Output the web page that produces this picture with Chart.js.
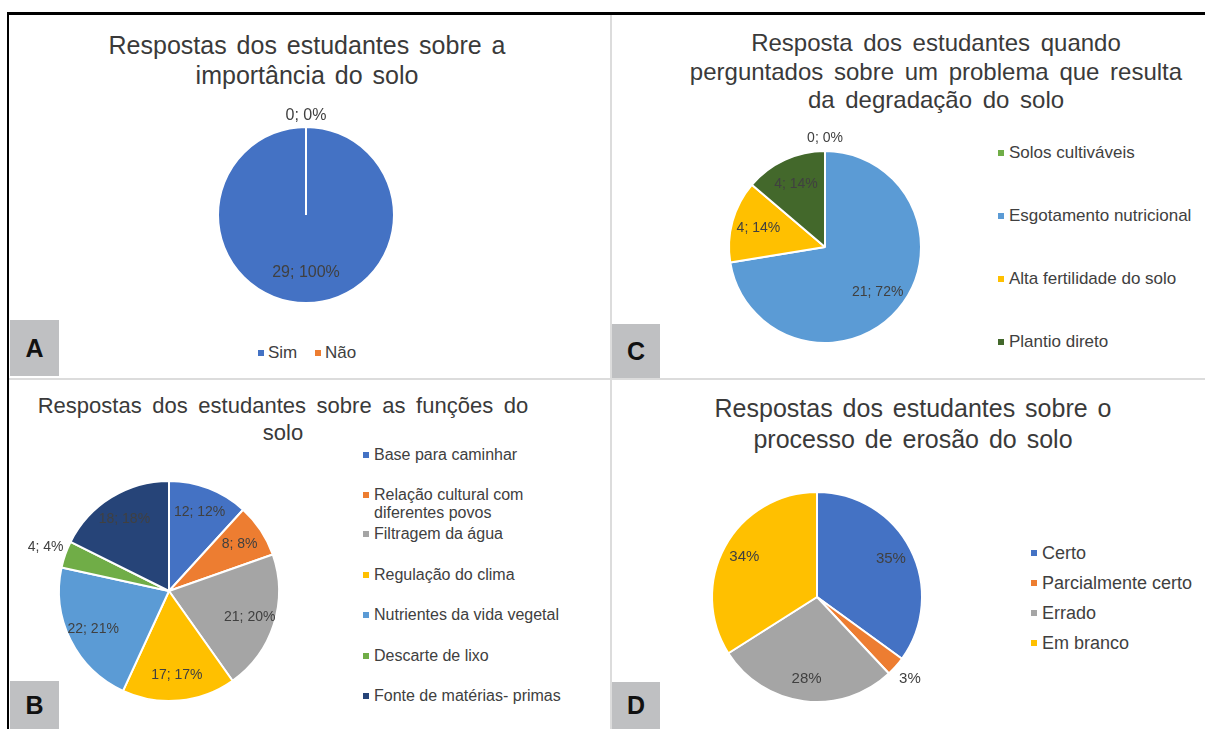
<!DOCTYPE html>
<html>
<head>
<meta charset="utf-8">
<script src="https://cdn.jsdelivr.net/npm/chart.js@4.4.1/dist/chart.umd.min.js"></script>
<style>
  html, body { margin: 0; padding: 0; background: #fff; }
  body { width: 1205px; height: 729px; position: relative; overflow: hidden; font-family: "Liberation Sans", Arial, sans-serif; color: #3a3a3a; }
  .abs { position: absolute; }
  .line { position: absolute; }
  .title { position: absolute; text-align: center; white-space: nowrap; color: #3a3a3a; }
  .letter { position: absolute; background: #bfc0c2; font-weight: bold; font-size: 25px; color: #111; display: flex; align-items: center; justify-content: center; z-index: 5; }
  .leg { position: absolute; white-space: nowrap; color: #404040; }
  .leg .it { position: absolute; left: 0; white-space: nowrap; }
  .leg .mk { position: absolute; width: 6px; height: 6px; }
  canvas { position: absolute; z-index: 1; }
</style>
</head>
<body>
<!-- frame and dividers -->
<div class="line" style="left:7px; top:12px; width:1198px; height:3px; background:#000;"></div>
<div class="line" style="left:7px; top:12px; width:2px; height:717px; background:#000;"></div>
<div class="line" style="left:9px; top:378px; width:1196px; height:2px; background:#dcdcdc;"></div>
<div class="line" style="left:610px; top:15px; width:2px; height:714px; background:#dcdcdc;"></div>

<!-- titles -->
<div class="title" style="left:57px; width:500px; top:30px; font-size:25px; line-height:30px; word-spacing:3px;">Respostas dos estudantes sobre a<br>importância do solo</div>
<div class="title" style="left:636px; width:600px; top:29px; font-size:24px; line-height:28.5px; word-spacing:4px;">Resposta dos estudantes quando<br>perguntados sobre um problema que resulta<br>da degradação do solo</div>
<div class="title" style="left:33px; width:500px; top:392px; font-size:22px; line-height:27px; word-spacing:4.5px;">Respostas dos estudantes sobre as funções do<br>solo</div>
<div class="title" style="left:663px; width:500px; top:393px; font-size:25px; line-height:31px; word-spacing:3px;">Respostas dos estudantes sobre o<br>processo de erosão do solo</div>

<!-- letters -->
<div class="letter" style="left:10px; top:320px; width:49px; height:56px;">A</div>
<div class="letter" style="left:612px; top:324px; width:48px; height:54px;">C</div>
<div class="letter" style="left:10px; top:681px; width:49px; height:48px;">B</div>
<div class="letter" style="left:612px; top:682px; width:48px; height:47px;">D</div>

<div id="legA" class="leg"></div>
<div id="legB" class="leg"></div>
<div id="legC" class="leg"></div>
<div id="legD" class="leg"></div>

<canvas id="pieA" width="298" height="298" style="left:157px; top:66px;"></canvas>
<canvas id="pieB" width="342" height="342" style="left:-2px; top:420px;"></canvas>
<canvas id="pieC" width="314" height="314" style="left:668px; top:90px;"></canvas>
<canvas id="pieD" width="332" height="332" style="left:651px; top:431px;"></canvas>

<script>
// ---------- DATA ----------
const categoriesA = ["Sim", "Não"];
const valuesA = [29, 0];
const percentA = [100, 0];
const colorsA = ["#4472C4", "#ED7D31"];

const categoriesB = ["Base para caminhar", "Relação cultural com diferentes povos", "Filtragem da água", "Regulação do clima", "Nutrientes da vida vegetal", "Descarte de lixo", "Fonte de matérias- primas"];
const valuesB = [12, 8, 21, 17, 22, 4, 18];
const percentB = [12, 8, 20, 17, 21, 4, 18];
const colorsB = ["#4472C4", "#ED7D31", "#A5A5A5", "#FFC000", "#5B9BD5", "#70AD47", "#264478"];

const categoriesC = ["Solos cultiváveis", "Esgotamento nutricional", "Alta fertilidade do solo", "Plantio direto"];
const valuesC = [0, 21, 4, 4];
const percentC = [0, 72, 14, 14];
const colorsC = ["#70AD47", "#5B9BD5", "#FFC000", "#43682B"];

const categoriesD = ["Certo", "Parcialmente certo", "Errado", "Em branco"];
const valuesD = [35, 3, 28, 34];
const colorsD = ["#4472C4", "#ED7D31", "#A5A5A5", "#FFC000"];

// ---------- LABEL PLUGIN ----------
function makeLabels(texts, inside, outside, font) {
  return {
    id: 'sliceLabels',
    afterDatasetsDraw(chart) {
      const ctx = chart.ctx;
      const meta = chart.getDatasetMeta(0);
      const data = chart.data.datasets[0].data;
      const total = data.reduce((a, b) => a + b, 0);
      ctx.save();
      ctx.font = font;
      ctx.fillStyle = "#404040";
      ctx.textAlign = "center";
      ctx.textBaseline = "middle";
      meta.data.forEach((arc, i) => {
        const p = arc.getProps(['x', 'y', 'startAngle', 'endAngle', 'outerRadius'], true);
        const mid = (p.startAngle + p.endAngle) / 2;
        const share = data[i] / total;
        const k = share < 0.05 ? outside : inside;
        const x = p.x + Math.cos(mid) * p.outerRadius * k;
        const y = p.y + Math.sin(mid) * p.outerRadius * k;
        ctx.fillText(texts[i], x, y);
      });
      ctx.restore();
    }
  };
}

function makePie(id, labels, values, colors, texts, inside, outside, font) {
  new Chart(document.getElementById(id), {
    type: 'pie',
    data: {
      labels: labels,
      datasets: [{
        data: values,
        backgroundColor: colors,
        borderColor: "#ffffff",
        borderWidth: 2,
        hoverBorderWidth: 2,
        hoverOffset: 0,
        offset: 0
      }]
    },
    options: {
      responsive: false,
      devicePixelRatio: 1,
      animation: false,
      events: [],
      layout: { padding: 60 },
      plugins: { legend: { display: false }, title: { display: false }, tooltip: { enabled: false } }
    },
    plugins: [makeLabels(texts, inside, outside, font)]
  });
}

const textsA = valuesA.map((v, i) => v + "; " + percentA[i] + "%");
const textsB = valuesB.map((v, i) => v + "; " + percentB[i] + "%");
const textsC = valuesC.map((v, i) => v + "; " + percentC[i] + "%");
const textsD = valuesD.map(v => v + "%");

makePie('pieA', categoriesA, valuesA, colorsA, textsA, 0.66, 1.13, '16px "Liberation Sans", Arial, sans-serif');
makePie('pieB', categoriesB, valuesB, colorsB, textsB, 0.77, 1.19, '14px "Liberation Sans", Arial, sans-serif');
makePie('pieC', categoriesC, valuesC, colorsC, textsC, 0.72, 1.13, '14px "Liberation Sans", Arial, sans-serif');
makePie('pieD', categoriesD, valuesD, colorsD, textsD, 0.79, 1.18, '15px "Liberation Sans", Arial, sans-serif');

// ---------- HTML LEGENDS ----------
function vertLegend(elId, left, tops, cats, colors, fontSize, lineH, wrapAt) {
  const el = document.getElementById(elId);
  el.style.left = left + "px";
  el.style.top = "0px";
  el.style.fontSize = fontSize + "px";
  cats.forEach((c, i) => {
    const it = document.createElement("div");
    it.className = "it";
    it.style.top = (tops[i] - lineH / 2) + "px";
    it.style.lineHeight = lineH + "px";
    const mk = document.createElement("span");
    mk.className = "mk";
    mk.style.background = colors[i];
    mk.style.left = "-3px";
    mk.style.top = (lineH / 2 - 3) + "px";
    const tx = document.createElement("span");
    tx.style.position = "absolute";
    tx.style.left = "8px";
    tx.style.top = "0px";
    let t = c;
    if (wrapAt && wrapAt[i]) t = c.slice(0, wrapAt[i]).trim() + "<br>" + c.slice(wrapAt[i]).trim();
    tx.innerHTML = t;
    it.appendChild(mk);
    it.appendChild(tx);
    el.appendChild(it);
  });
}

vertLegend("legC", 1001, [153, 216, 279, 342], categoriesC, colorsC, 17, 20, null);
vertLegend("legB", 366, [455, 495, 534, 575, 615, 656, 696], categoriesB, colorsB, 16, 17.5, {1: 20});
vertLegend("legD", 1034, [553, 583, 613, 643], categoriesD, colorsD, 18, 22, null);

// horizontal legend A
(function () {
  const el = document.getElementById("legA");
  const xs = [261, 318];
  el.style.left = "0px";
  el.style.top = "0px";
  el.style.fontSize = "17px";
  categoriesA.forEach((c, i) => {
    const it = document.createElement("div");
    it.className = "it";
    it.style.left = xs[i] + "px";
    it.style.top = (353 - 10) + "px";
    it.style.lineHeight = "20px";
    it.innerHTML = '<span class="mk" style="left:-3px; top:7px; background:' + colorsA[i] + '"></span><span style="position:absolute; left:7px; top:0;">' + c + '</span>';
    el.appendChild(it);
  });
})();
</script>
</body>
</html>
